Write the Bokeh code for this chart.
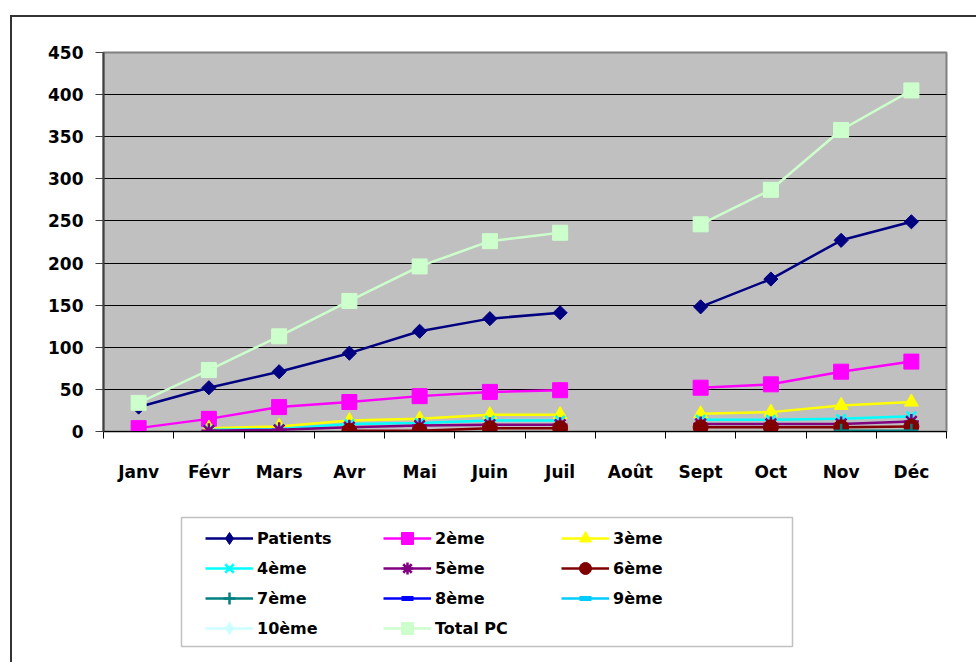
import math
from bokeh.plotting import figure
from bokeh.layouts import column
from bokeh.models import FixedTicker, Legend, LegendItem, BoxAnnotation
from bokeh.embed import file_html
from bokeh.resources import INLINE

nan = float("nan")

months = ["Janv", "Févr", "Mars", "Avr", "Mai", "Juin", "Juil", "Août", "Sept", "Oct", "Nov", "Déc"]
y_ticks = [0, 50, 100, 150, 200, 250, 300, 350, 400, 450]

patients = [29, 52, 71, 93, 119, 134, 141, nan, 148, 181, 227, 249]
s2 = [4, 15, 29, 35, 42, 47, 49, nan, 52, 56, 71, 83]
s3 = [nan, 4, 6, 13, 15, 20, 20, nan, 21, 23, 31, 35]
s4 = [nan, 2, 3, 9, 10, 13, 13, nan, 14, 14, 15, 18]
s5 = [nan, 1, 2, 5, 7, 8, 8, nan, 9, 9, 9, 12]
s6 = [nan, nan, nan, 1, 1, 4, 4, nan, 5, 5, 5, 6]
s7 = [nan, nan, nan, nan, nan, nan, nan, nan, nan, nan, 1, 1]
s8 = [nan] * 12
s9 = [nan] * 12
s10 = [nan] * 12
total_pc = [34, 73, 113, 155, 196, 226, 236, nan, 246, 287, 358, 405]

names = ["Patients", "2ème", "3ème", "4ème", "5ème", "6ème", "7ème", "8ème", "9ème", "10ème", "Total PC"]
values = [patients, s2, s3, s4, s5, s6, s7, s8, s9, s10, total_pc]

styles = [
    dict(color="#000080", marker="square", size=10, angle=math.pi / 4, lw=0, leg="diamond"),
    dict(color="#FF00FF", marker="square", size=15, angle=0, lw=0, leg="square"),
    dict(color="#FFFF00", marker="triangle", size=14, angle=0, lw=0, leg="triangle"),
    dict(color="#00FFFF", marker="x", size=13, angle=0, lw=2.5, leg="x"),
    dict(color="#800080", marker="asterisk", size=15, angle=0, lw=2.5, leg="asterisk"),
    dict(color="#800000", marker="circle", size=15, angle=0, lw=0, leg="circle"),
    dict(color="#008080", marker="cross", size=14, angle=0, lw=2.5, leg="cross"),
    dict(color="#0000FF", marker="dash", size=8, angle=0, lw=5, leg="dash"),
    dict(color="#00CCFF", marker="dash", size=10, angle=0, lw=5, leg="dash"),
    dict(color="#CCFFFF", marker="square", size=10, angle=math.pi / 4, lw=0, leg="diamond"),
    dict(color="#CCFFCC", marker="square", size=15, angle=0, lw=0, leg="square"),
]

x = list(range(1, 13))
FONT = "DejaVu Sans"


def draw(fig, xs, ys, st, marker=None):
    mk = marker or st["marker"]
    ang = 0 if marker else st["angle"]
    rl = fig.line(xs, ys, line_color=st["color"], line_width=2.5)
    if st["lw"] == 0:
        rs = fig.scatter(xs, ys, marker=mk, size=st["size"], angle=ang,
                         fill_color=st["color"], line_color=st["color"], line_width=1)
    else:
        rs = fig.scatter(xs, ys, marker=mk, size=st["size"], angle=ang,
                         line_color=st["color"], line_width=st["lw"], fill_color=st["color"])
    return [rl, rs]


# ---- main chart ----
p = figure(width=964, height=483, x_range=(0.5, 12.5), y_range=(0, 450),
           output_backend="svg", toolbar_location=None,
           min_border_left=91, min_border_right=30, min_border_top=35, min_border_bottom=69,
           background_fill_color="#C0C0C0", border_fill_color="white")
p.outline_line_color = "#808080"
p.outline_line_width = 2

p.xgrid.visible = False
p.ygrid.ticker = FixedTicker(ticks=y_ticks)
p.ygrid.grid_line_color = "black"
p.ygrid.grid_line_width = 1

p.xaxis.ticker = FixedTicker(ticks=x, minor_ticks=[i + 0.5 for i in range(0, 13)])
p.xaxis.major_label_overrides = {i + 1: m for i, m in enumerate(months)}
p.xaxis.major_tick_out = 0
p.xaxis.major_tick_in = 0
p.xaxis.minor_tick_out = 7
p.xaxis.minor_tick_in = 0
p.xaxis.minor_tick_line_color = "black"
p.xaxis.axis_line_color = "black"
p.xaxis.major_label_standoff = 23

p.yaxis.ticker = FixedTicker(ticks=y_ticks)
p.yaxis.major_tick_out = 8
p.yaxis.major_tick_in = 0
p.yaxis.minor_tick_line_color = None
p.yaxis.axis_line_color = "#404040"
p.yaxis.axis_line_width = 2
p.yaxis.major_tick_line_color = "#404040"
p.yaxis.major_label_standoff = 12

for ax in (p.xaxis, p.yaxis):
    ax.major_label_text_font = FONT
    ax.major_label_text_font_style = "bold"
    ax.major_label_text_font_size = "17px"
    ax.major_label_text_color = "black"

for vals, st in zip(values, styles):
    draw(p, x, vals, st)

# ---- legend area: a second figure whose ranges are page pixels (y downward) ----
q = figure(width=964, height=162, x_range=(103, 946), y_range=(662, 500),
           output_backend="svg", toolbar_location=None,
           x_axis_location=None, y_axis_location=None,
           min_border_left=91, min_border_right=30, min_border_top=0, min_border_bottom=0,
           background_fill_color="white", border_fill_color="white")
q.grid.visible = False
q.outline_line_color = None

legbox = BoxAnnotation(left=181, right=792, top=517, bottom=646,
                       fill_alpha=0, line_color="#333333", line_width=1.5)
q.add_layout(legbox)

items = []
for name, vals, st in zip(names, values, styles):
    # same series drawn here only to give the legend its glyphs; they fall outside q's view
    items.append(LegendItem(label=name, renderers=draw(q, x, vals, st, marker=st["leg"])))

legend = Legend(items=items, location=(102, 19), orientation="horizontal", ncols=3,
                spacing=0, padding=0, margin=0, glyph_width=48, glyph_height=30,
                label_width=126, label_height=30, label_standoff=4,
                label_text_font=FONT, label_text_font_style="bold", label_text_font_size="16px",
                label_text_color="black",
                border_line_alpha=0, background_fill_alpha=0)
q.add_layout(legend, "center")

layout = column(p, q, spacing=0, margin=(15, 0, 0, 10),
                styles={"border-left": "2px solid #333333", "border-top": "2px solid #333333"})

open("out.html", "w").write(file_html(layout, INLINE))
